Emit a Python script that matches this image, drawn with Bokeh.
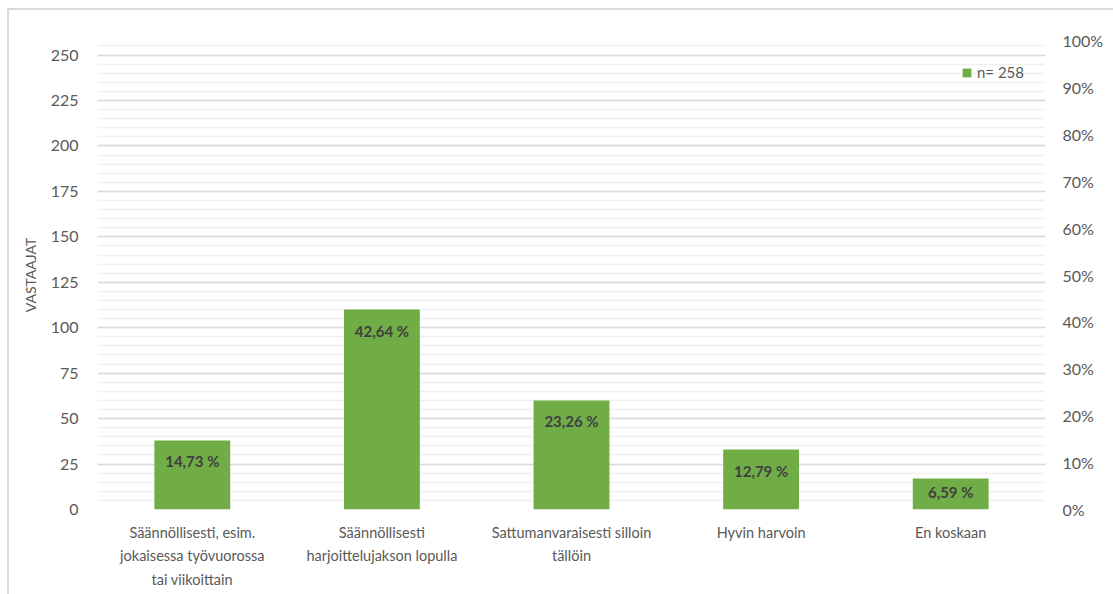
from bokeh.plotting import figure
from bokeh.models import (Range1d, LinearAxis, FixedTicker, Legend, LegendItem,
                          ColumnDataSource, CustomJSTickFormatter)
from bokeh.core.properties import value
from bokeh.embed import file_html
from bokeh.resources import INLINE

categories = [
    "Säännöllisesti, esim.\njokaisessa työvuorossa\ntai viikoittain",
    "Säännöllisesti\nharjoittelujakson lopulla",
    "Sattumanvaraisesti silloin\ntällöin",
    "Hyvin harvoin",
    "En koskaan",
]
counts = [38, 110, 60, 33, 17]
total_n = 258
left_ticks = [0, 25, 50, 75, 100, 125, 150, 175, 200, 225, 250]
right_ticks = [0.0, 0.1, 0.2, 0.3, 0.4, 0.5, 0.6, 0.7, 0.8, 0.9, 1.0]

FONT = "Lato"
GREEN = "#70ad47"
TXT = "#595959"
FRAME_H = 469

pct_labels = [("%.2f" % (c / total_n * 100)).replace(".", ",") + " %" for c in counts]
offsets = [min(21, c * FRAME_H / total_n / 2 - 2) for c in counts]
src = ColumnDataSource(dict(x=categories, top=counts, lab=pct_labels, off=offsets))

p = figure(x_range=categories, y_range=Range1d(0, total_n),
           width=1104, height=584, frame_width=948, frame_height=FRAME_H,
           min_border_left=88, min_border_right=68, min_border_top=30, min_border_bottom=85,
           output_backend="svg", toolbar_location=None,
           background_fill_color="white", border_fill_color="white",
           outline_line_color=None)

r = p.vbar(x="x", top="top", width=0.4, source=src, fill_color=GREEN, line_color=None)
p.text(x="x", y="top", text="lab", source=src, text_align="center", text_baseline="middle",
       y_offset="off", text_font=value(FONT), text_font_style="bold", text_font_size="15px",
       text_color="#404040")

# left axis
ya = p.yaxis[0]
ya.ticker = FixedTicker(ticks=left_ticks, minor_ticks=list(range(0, 259, 5)))
ya.axis_label = "VASTAAJAT"
ya.axis_label_text_font = FONT
ya.axis_label_text_font_size = "14px"
ya.axis_label_text_font_style = "normal"
ya.axis_label_text_color = TXT
ya.axis_label_standoff = 9
ya.major_label_text_font = FONT
ya.major_label_text_font_size = "16px"
ya.major_label_text_color = TXT
ya.major_label_standoff = 13
ya.axis_line_color = None
ya.major_tick_line_color = None
ya.minor_tick_line_color = None

# right axis
p.extra_y_ranges = {"pct": Range1d(0, 1)}
ra = LinearAxis(y_range_name="pct")
ra.ticker = FixedTicker(ticks=right_ticks)
ra.formatter = CustomJSTickFormatter(code="return Math.round(tick*100) + '%';")
ra.major_label_text_font = FONT
ra.major_label_text_font_size = "16px"
ra.major_label_text_color = TXT
ra.major_label_standoff = 11
ra.axis_line_color = None
ra.major_tick_line_color = None
ra.minor_tick_line_color = None
p.add_layout(ra, "right")

# x axis
xa = p.xaxis[0]
xa.major_label_text_font = FONT
xa.major_label_text_font_size = "14.5px"
xa.major_label_text_color = TXT
xa.major_label_text_line_height = 1.4
xa.major_label_standoff = 8
xa.axis_line_color = None
xa.major_tick_line_color = None
xa.minor_tick_line_color = None

p.xgrid.grid_line_color = None
p.ygrid.grid_line_color = "#d9d9d9"
p.ygrid.grid_line_width = 1.5
p.ygrid.minor_grid_line_color = "#f0f0f0"
p.ygrid.minor_grid_line_width = 1.5

legend = Legend(items=[LegendItem(label="n= %d" % total_n, renderers=[r])],
                location=(864, 428), padding=0, spacing=0, margin=0,
                border_line_color=None, background_fill_alpha=0,
                glyph_width=11, glyph_height=11, label_standoff=5,
                label_text_font=FONT, label_text_font_size="15px", label_text_color=TXT)
p.add_layout(legend)

p.styles = {"border-left": "2px solid #d9d9d9", "border-top": "2px solid #d9d9d9",
            "margin-left": "7px", "margin-top": "8px"}

open("out.html", "w").write(file_html(p, INLINE))
